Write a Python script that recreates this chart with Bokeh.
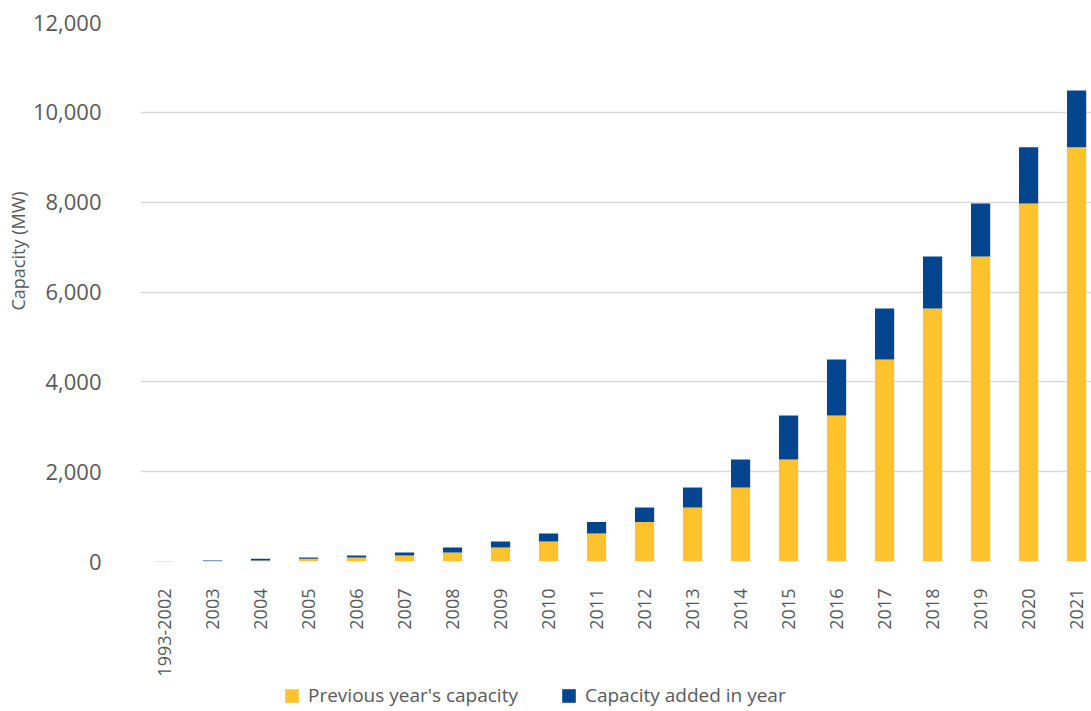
from math import pi
from bokeh.plotting import figure
from bokeh.layouts import column
from bokeh.models import (ColumnDataSource, Range1d, FixedTicker, Legend, LegendItem,
                          NumeralTickFormatter, Title)
from bokeh.embed import file_html
from bokeh.resources import INLINE

years = ["1993-2002", "2003", "2004", "2005", "2006", "2007", "2008", "2009", "2010", "2011",
         "2012", "2013", "2014", "2015", "2016", "2017", "2018", "2019", "2020", "2021"]
previous = [0, 8, 25, 60, 90, 135, 200, 310, 445, 623, 880, 1202, 1647, 2271, 3250, 4497,
            5632, 6790, 7970, 9220]
added = [5, 17, 35, 30, 45, 65, 110, 135, 178, 257, 322, 445, 624, 979, 1247, 1135,
         1158, 1180, 1250, 1266]
series_names = ["Previous year's capacity", "Capacity added in year"]
y_ticks = [0, 2000, 4000, 6000, 8000, 10000, 12000]

FONT = "Open Sans"
TXT = "#595959"
YELLOW = "#FEC22D"
BLUE = "#03468F"

src = ColumnDataSource(dict(x=list(range(len(years))), prev=previous, added=added))

p = figure(width=1091, height=680, output_backend="svg", toolbar_location=None,
           x_range=Range1d(-0.5, 19.31), y_range=Range1d(0, 12000),
           min_border_left=140, min_border_right=0, min_border_top=22, min_border_bottom=119)
p.outline_line_color = None

r = p.vbar_stack(["prev", "added"], x="x", width=0.4, source=src,
                 color=[YELLOW, BLUE], line_color=None)

p.xaxis.ticker = FixedTicker(ticks=list(range(len(years))))
p.xaxis.major_label_overrides = {i: y for i, y in enumerate(years)}
p.xaxis.major_label_orientation = pi / 2
p.xaxis.axis_line_color = None
p.xaxis.major_tick_line_color = None
p.xaxis.minor_tick_line_color = None
p.xaxis.major_label_text_font = FONT
p.xaxis.major_label_text_font_size = "18px"
p.xaxis.major_label_text_color = TXT
p.xaxis.major_label_standoff = 21
p.xgrid.grid_line_color = None

p.yaxis.ticker = FixedTicker(ticks=y_ticks)
p.yaxis.formatter = NumeralTickFormatter(format="0,0")
p.yaxis.axis_line_color = None
p.yaxis.major_tick_line_color = None
p.yaxis.minor_tick_line_color = None
p.yaxis.major_label_text_font = FONT
p.yaxis.major_label_text_font_size = "22px"
p.yaxis.major_label_text_color = TXT
p.yaxis.major_label_standoff = 33
p.ygrid.ticker = FixedTicker(ticks=y_ticks)
p.ygrid.grid_line_color = "#D9D9D9"
p.ygrid.grid_line_width = 1.5

ytitle = Title(text="Capacity (MW)", align="left", offset=251,
               text_font=FONT, text_font_size="18px", text_font_style="normal",
               text_color=TXT, standoff=0)
p.add_layout(ytitle, "left")

# legend strip below the chart (its frame is aligned with the chart's frame)
lg = figure(width=1091, height=31, output_backend="svg", toolbar_location=None,
            x_range=Range1d(-100, -99), y_range=Range1d(0, 1),
            min_border_left=140, min_border_right=0, min_border_top=0, min_border_bottom=0)
lg.outline_line_color = None
lg.axis.visible = False
lg.grid.visible = False
lr = lg.vbar_stack(["prev", "added"], x="x", width=0.4, source=src,
                   color=[YELLOW, BLUE], line_color=None)
legend = Legend(items=[LegendItem(label=series_names[0], renderers=[lr[0]]),
                       LegendItem(label=series_names[1], renderers=[lr[1]])],
                orientation="horizontal", location=(143, 3),
                padding=0, margin=0, spacing=42, label_standoff=8,
                glyph_width=17, glyph_height=17,
                label_text_font=FONT, label_text_font_size="19px",
                label_text_color=TXT, border_line_color=None, background_fill_alpha=0)
lg.add_layout(legend, "center")

open("out.html", "w").write(file_html(column(p, lg, spacing=0), INLINE))
